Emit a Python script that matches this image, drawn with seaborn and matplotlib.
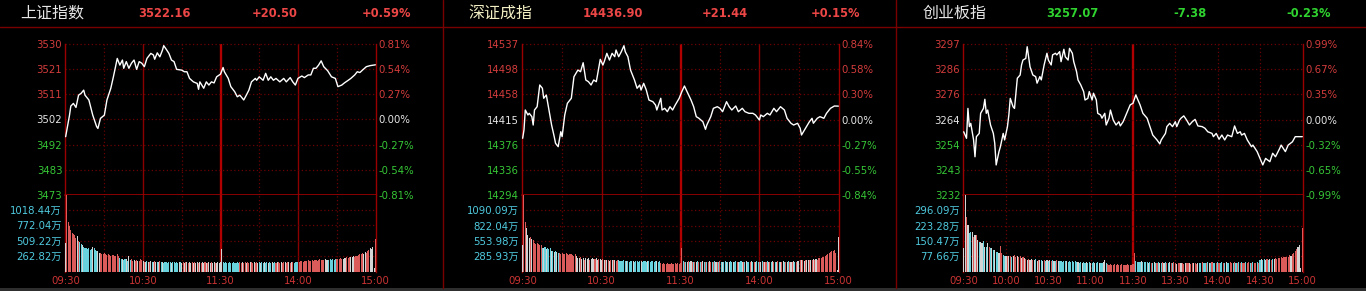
import numpy as np
import pandas as pd
import matplotlib
matplotlib.use("Agg")
import matplotlib.pyplot as plt
from matplotlib.lines import Line2D
from matplotlib.patches import Rectangle
import seaborn as sns

# ---------------- data ----------------
names = ["上证指数", "深证成指", "创业板指"]
last_prices = [3522.16, 14436.90, 3257.07]
changes = [20.50, 21.44, -7.38]
change_text = ["+20.50", "+21.44", "-7.38"]
pct_text = ["+0.59%", "+0.15%", "-0.23%"]
last_text = ["3522.16", "14436.90", "3257.07"]
axis_pct = [0.81, 0.84, 0.99]

price_labels_1 = ["3530", "3521", "3511", "3502", "3492", "3483", "3473"]
price_labels_2 = ["14537", "14498", "14458", "14415", "14376", "14336", "14294"]
price_labels_3 = ["3297", "3286", "3276", "3264", "3254", "3243", "3232"]
pct_labels_1 = ["0.81%", "0.54%", "0.27%", "0.00%", "-0.27%", "-0.54%", "-0.81%"]
pct_labels_2 = ["0.84%", "0.58%", "0.30%", "0.00%", "-0.27%", "-0.55%", "-0.84%"]
pct_labels_3 = ["0.99%", "0.67%", "0.35%", "0.00%", "-0.32%", "-0.65%", "-0.99%"]

vol_ticks_1 = [1018.44, 772.04, 509.22, 262.82]
vol_ticks_2 = [1090.09, 822.04, 553.98, 285.93]
vol_ticks_3 = [296.09, 223.28, 150.47, 77.66]

time_ticks_12 = [0, 60, 120, 180, 240]
time_labels_12 = ["09:30", "10:30", "11:30", "14:00", "15:00"]
time_ticks_3 = [0, 30, 60, 90, 120, 150, 180, 210, 240]
time_labels_3 = ["09:30", "10:00", "10:30", "11:00", "11:30", "13:30", "14:00", "14:30", "15:00"]

# intraday price line (minute index, price)
M1 = [0, 3, 4, 6, 8, 10, 12, 14, 15, 18, 21, 24, 25, 27, 30, 32, 35, 37, 40, 42, 44, 45, 47, 49,
      51, 53, 55, 57, 59, 61, 63, 66, 68, 69, 71, 73, 75, 76, 78, 80, 82, 84, 86, 90, 92, 94, 96,
      99, 102, 103, 104, 107, 109, 111, 113, 115, 117, 120, 122, 123, 126, 128, 131, 133, 135,
      137, 138, 140, 142, 144, 147, 148, 150, 153, 155, 157, 159, 161, 163, 166, 169, 171, 174,
      176, 178, 180, 183, 185, 188, 190, 192, 194, 196, 198, 200, 203, 206, 209, 211, 214, 216,
      219, 221, 224, 226, 228, 230, 233, 236, 240]
P1 = [3495.2, 3503.3, 3506.7, 3507.7, 3506.2, 3510.8, 3511.5, 3512.7, 3510.8, 3509.0, 3503.3,
      3499.0, 3498.3, 3502.1, 3503.3, 3509.0, 3513.4, 3517.7, 3524.6, 3522.1, 3524.0, 3520.9,
      3523.4, 3520.9, 3522.8, 3524.0, 3520.5, 3523.4, 3522.8, 3521.5, 3524.6, 3526.5, 3525.9,
      3524.3, 3526.7, 3525.2, 3527.7, 3529.4, 3528.0, 3526.5, 3524.0, 3523.4, 3520.5, 3520.2,
      3519.6, 3519.6, 3517.1, 3515.8, 3515.2, 3513.0, 3515.8, 3513.4, 3515.8, 3514.6, 3515.8,
      3515.4, 3517.7, 3518.7, 3521.2, 3519.6, 3517.1, 3514.0, 3512.1, 3510.2, 3510.8, 3509.6,
      3509.0, 3510.8, 3512.7, 3515.8, 3517.1, 3516.4, 3517.7, 3516.4, 3519.0, 3516.4, 3517.7,
      3516.4, 3517.1, 3515.8, 3517.1, 3515.8, 3517.4, 3515.8, 3514.6, 3517.1, 3518.0, 3517.4,
      3518.4, 3518.4, 3520.9, 3520.9, 3522.1, 3523.7, 3521.5, 3520.0, 3517.7, 3517.1, 3514.0,
      3514.6, 3515.4, 3516.4, 3517.1, 3518.4, 3519.6, 3519.3, 3520.2, 3521.5, 3521.9, 3522.2]

M2 = [0, 1, 2, 4, 5, 7, 8, 9, 11, 13, 15, 16, 18, 20, 22, 24, 25, 27, 29, 30, 32, 34, 37, 39, 42,
      44, 46, 48, 50, 52, 54, 56, 59, 61, 62, 64, 66, 68, 70, 71, 73, 75, 77, 78, 80, 82, 83, 85,
      87, 89, 90, 92, 94, 96, 99, 101, 102, 105, 106, 108, 110, 112, 114, 116, 119, 121, 123, 125,
      128, 130, 132, 134, 137, 139, 140, 143, 145, 148, 150, 152, 155, 157, 159, 162, 164, 167,
      169, 172, 175, 177, 180, 181, 183, 186, 188, 191, 193, 196, 199, 201, 204, 206, 209, 211,
      212, 215, 218, 220, 221, 224, 226, 229, 231, 234, 237, 240]
P2 = [14385.3, 14398.6, 14430.7, 14422.7, 14425.4, 14420.0, 14406.6, 14430.7, 14436.0, 14470.8,
      14465.5, 14449.5, 14454.7, 14430.7, 14406.6, 14387.9, 14377.3, 14371.9, 14395.9, 14387.9,
      14422.7, 14441.4, 14449.5, 14484.1, 14494.8, 14492.1, 14506.5, 14478.8, 14476.1, 14470.8,
      14478.8, 14476.1, 14512.0, 14502.8, 14508.1, 14521.6, 14510.8, 14521.6, 14516.2, 14526.9,
      14516.2, 14524.2, 14533.8, 14524.2, 14516.2, 14494.8, 14489.5, 14478.8, 14465.5, 14470.8,
      14462.7, 14473.5, 14462.7, 14446.7, 14444.0, 14438.7, 14430.7, 14449.5, 14430.7, 14433.4,
      14428.0, 14436.0, 14430.7, 14438.7, 14449.5, 14460.1, 14469.2, 14460.1, 14446.7, 14436.0,
      14420.0, 14417.4, 14411.9, 14399.7, 14406.6, 14420.0, 14433.4, 14436.0, 14433.4, 14428.0,
      14444.0, 14436.0, 14430.7, 14437.1, 14428.0, 14433.4, 14428.0, 14425.4, 14425.4, 14422.7,
      14414.6, 14422.7, 14420.0, 14425.4, 14422.7, 14433.4, 14428.0, 14436.0, 14430.7, 14417.4,
      14409.4, 14406.6, 14409.4, 14401.3, 14390.6, 14401.3, 14411.9, 14417.4, 14409.4, 14417.4,
      14420.0, 14417.4, 14425.4, 14433.4, 14437.1, 14436.9]

M3 = [0, 2, 3, 4, 5, 7, 8, 9, 11, 12, 14, 15, 16, 17, 19, 21, 22, 23, 25, 26, 28, 29, 31, 32, 33,
      35, 36, 38, 40, 41, 42, 44, 45, 47, 49, 51, 52, 54, 55, 57, 59, 60, 62, 63, 65, 66, 68, 69,
      71, 72, 74, 75, 77, 78, 80, 81, 83, 85, 86, 88, 89, 91, 92, 94, 95, 97, 98, 100, 101, 103,
      104, 106, 108, 110, 111, 113, 115, 118, 120, 122, 123, 125, 127, 130, 132, 134, 137, 139,
      140, 143, 144, 146, 148, 150, 151, 153, 154, 156, 158, 160, 162, 164, 166, 169, 171, 173,
      176, 177, 179, 181, 183, 185, 187, 190, 192, 194, 196, 197, 199, 201, 204, 205, 208, 212,
      214, 217, 219, 221, 224, 225, 228, 230, 233, 235, 240]
P3 = [3259.2, 3256.4, 3269.2, 3261.4, 3262.8, 3255.7, 3248.5, 3257.1, 3258.5, 3267.1, 3269.2,
      3273.1, 3267.1, 3268.5, 3262.1, 3258.5, 3254.3, 3245.0, 3250.7, 3252.8, 3258.5, 3255.7,
      3261.4, 3266.4, 3273.5, 3269.9, 3269.2, 3282.1, 3283.5, 3287.8, 3289.9, 3290.6, 3295.6,
      3287.0, 3283.5, 3282.8, 3280.0, 3282.8, 3281.4, 3287.8, 3292.8, 3289.9, 3287.8, 3292.1,
      3292.8, 3292.1, 3293.5, 3289.2, 3294.5, 3291.3, 3289.9, 3294.9, 3292.8, 3289.2, 3284.9,
      3281.4, 3279.2, 3276.4, 3272.8, 3273.5, 3276.4, 3272.8, 3275.7, 3272.8, 3267.1, 3266.4,
      3265.0, 3267.1, 3262.1, 3265.0, 3268.5, 3264.2, 3262.1, 3263.5, 3261.7, 3263.5, 3266.4,
      3270.7, 3271.4, 3275.0, 3273.5, 3270.7, 3267.1, 3265.0, 3261.4, 3257.8, 3255.7, 3254.0,
      3255.7, 3258.5, 3261.4, 3262.8, 3261.4, 3263.5, 3261.4, 3264.2, 3265.0, 3266.0, 3264.2,
      3262.1, 3263.5, 3264.5, 3261.7, 3261.4, 3260.7, 3259.2, 3258.5, 3257.1, 3258.5, 3256.0,
      3257.8, 3255.7, 3257.8, 3257.1, 3261.7, 3258.5, 3259.2, 3257.8, 3258.5, 3255.7, 3252.8,
      3253.5, 3250.7, 3245.0, 3247.8, 3246.4, 3250.0, 3248.5, 3252.1, 3253.5, 3250.7, 3253.5,
      3254.9, 3257.1, 3257.1]

# per-minute volume (万) and bar colour code (r = up, c = down, w = flat)
V1 = [474, 1273, 830, 760, 700, 640, 620, 610, 560, 600,
      520, 500, 470, 440, 420, 400, 390, 380, 400, 370,
      380, 410, 390, 360, 350, 340, 320, 310, 300, 300,
      310, 290, 280, 290, 280, 270, 280, 280, 270, 260,
      300, 260, 230, 220, 210, 200, 210, 220, 190, 260,
      200, 210, 190, 200, 180, 200, 190, 180, 210, 200,
      180, 170, 160, 180, 170, 165, 175, 160, 170, 180,
      160, 170, 165, 175, 160, 170, 155, 160, 170, 150,
      160, 165, 150, 160, 170, 155, 160, 150, 165, 160,
      155, 165, 150, 160, 170, 155, 160, 150, 165, 155,
      160, 150, 170, 155, 160, 150, 165, 155, 160, 150,
      155, 160, 150, 165, 155, 160, 150, 155, 165, 150,
      160, 380, 160, 150, 165, 155, 150, 160, 155, 150,
      160, 155, 150, 165, 150, 160, 155, 165, 150, 160,
      155, 165, 150, 160, 170, 155, 160, 150, 165, 155,
      160, 150, 165, 155, 170, 150, 160, 155, 165, 150,
      160, 155, 165, 150, 170, 160, 155, 165, 150, 160,
      170, 155, 160, 165, 150, 160, 170, 155, 160, 165,
      160, 170, 175, 180, 170, 185, 190, 180, 195, 185,
      190, 200, 185, 195, 205, 190, 200, 210, 195, 205,
      200, 210, 195, 205, 200, 210, 205, 215, 200, 210,
      215, 220, 210, 225, 215, 220, 230, 225, 240, 235,
      245, 240, 250, 260, 255, 270, 265, 280, 290, 300,
      310, 300, 330, 320, 350, 360, 400, 380, 420, 60, 545]
C1 = list("wrrrrrrrrw" "rccwcccccc" "cwcccwwrrr" "rrrrrrrrrr" "rrccwccwcw"
          "crrwrrwrrr" "wrwcwrwcwr" "wcwrcwcccc" "ccwcccccwc" "wrwrwrwwrw"
          "rwwrwrwwrw" "rwwrwwrwww" "wwcccccccc" "cccccrrwrr" "wrrwrrwrrw"
          "cwccwccwcc" "wccrwrrwrr" "wrrwrwrccc" "crrrrrrrrr" "rrrrrrrrrr"
          "rwwwcccccc" "rrrrrwwwrr" "rwwwrrrrrr" "rwwrrrwwwwr")

V2 = [480, 1362, 885, 780, 655, 600, 620, 590, 560, 520,
      500, 510, 490, 480, 470, 430, 420, 440, 410, 420,
      400, 430, 380, 370, 360, 370, 350, 340, 330, 320,
      340, 320, 310, 330, 320, 300, 310, 320, 300, 290,
      310, 280, 250, 240, 260, 230, 240, 220, 250, 230,
      240, 220, 230, 250, 225, 230, 240, 220, 235, 225,
      215, 230, 210, 220, 205, 215, 200, 210, 220, 205,
      210, 200, 215, 205, 195, 200, 190, 205, 195, 190,
      200, 185, 195, 190, 200, 185, 195, 190, 185, 195,
      190, 185, 200, 190, 185, 195, 190, 185, 200, 190,
      185, 195, 190, 185, 200, 160, 150, 155, 145, 150,
      160, 150, 145, 155, 150, 145, 160, 150, 155, 150,
      165, 420, 190, 180, 185, 175, 190, 180, 195, 185,
      175, 185, 180, 190, 175, 185, 180, 195, 175, 185,
      180, 175, 190, 180, 185, 175, 190, 180, 185, 175,
      190, 180, 185, 175, 190, 180, 185, 175, 190, 180,
      185, 175, 190, 180, 185, 175, 190, 180, 185, 175,
      190, 180, 185, 175, 190, 180, 185, 175, 190, 180,
      185, 175, 190, 180, 185, 175, 190, 180, 185, 175,
      190, 180, 185, 175, 190, 180, 185, 175, 190, 180,
      185, 175, 190, 180, 185, 175, 190, 180, 185, 190,
      200, 210, 205, 215, 200, 220, 210, 205, 215, 220,
      210, 225, 215, 230, 220, 240, 250, 245, 260, 270,
      280, 300, 310, 330, 350, 370, 380, 390, 330, 30, 625]
C2 = list("wrrwwwrwrr" "rrrrrcwcwc" "ccwcwcwcrr" "rrrrrrrrrr" "rwwwrwwrww"
          "wrwwwrwwrw" "wrwrwrwrwr" "wrrccccccw" "ccccwccccc" "wccccwcccc"
          "ccwccrrrrr" "rrrrrrrrrr" "rrcrcwrcwr" "crwcrcrwcr" "crwrcrcwrc"
          "rcwccwcwcc" "wccrwccwrc" "wccrwcrwcc" "rwcrwrcwrc" "wrcwrcwrwc"
          "rwcrwrwcrw" "wrwrwrwwrw" "rwrwrrrrrr" "rrrrrrrrrww")

V3 = [114, 370, 265, 226, 186, 193, 193, 169, 178, 180,
      154, 145, 145, 138, 150, 121, 118, 140, 121, 113,
      113, 106, 106, 97, 97, 93, 125, 90, 82, 78,
      78, 75, 75, 78, 70, 75, 80, 72, 78, 70,
      75, 68, 72, 65, 62, 60, 64, 58, 62, 60,
      58, 62, 55, 58, 56, 60, 54, 57, 55, 58,
      54, 56, 53, 57, 55, 52, 56, 54, 52, 55,
      50, 53, 51, 54, 50, 52, 49, 53, 50, 52,
      46, 48, 45, 47, 44, 46, 45, 48, 44, 46,
      45, 43, 46, 44, 45, 47, 43, 45, 44, 46,
      60, 45, 37, 35, 38, 36, 34, 37, 35, 38,
      36, 34, 37, 35, 36, 34, 37, 35, 33, 36,
      38, 90, 52, 48, 50, 47, 51, 49, 48, 50,
      46, 44, 47, 45, 43, 46, 44, 45, 47, 43,
      45, 46, 44, 47, 45, 43, 46, 44, 45, 47,
      42, 40, 43, 41, 44, 42, 40, 43, 41, 42,
      44, 40, 42, 43, 41, 40, 42, 45, 43, 46,
      44, 45, 43, 46, 44, 45, 47, 43, 45, 44,
      46, 45, 43, 47, 44, 45, 46, 44, 45, 47,
      45, 44, 46, 43, 45, 47, 44, 46, 45, 43,
      46, 44, 47, 45, 43, 46, 45, 44, 47, 45,
      58, 62, 60, 64, 57, 62, 60, 63, 58, 61,
      62, 66, 64, 68, 65, 70, 67, 72, 70, 74,
      70, 80, 75, 85, 92, 100, 110, 120, 130, 20, 212]
C3 = list("wwrwccwrwr" "wcwwcwcwrc" "wcwccwrrcc" "wrwrcwrrwr" "rwrwrwrwwr"
          "wcwrwcwrcw" "cwrcwcrwcc" "cccwcccccc" "cwccwccwcc" "wccwccwccw"
          "wcrrrrrrrr" "rrrrrrrrrr" "rrccccwccc" "cwcrcwcrcw" "crwcrcwrcr"
          "rwrrwrrwrr" "wrrwrrwccr" "ccrcwcrccr" "crccrcwccr" "rcrcrcrcrr"
          "crrcrcrrcr" "cwccwrcwrc" "wrrrrrrrrr" "rrwrrrrwwwr")

# ---------------- style ----------------
sns.set_theme(style="dark", rc={"axes.facecolor": "black", "figure.facecolor": "black"})
plt.rcParams["font.family"] = ["DejaVu Sans", "Noto Sans CJK SC"]
plt.rcParams["axes.unicode_minus"] = False

W, H = 1366, 291
RED_T = "#d43c3c"
RED_H = "#ec4646"
GRN_T = "#36c636"
GRN_H = "#2fd22f"
WHITE_T = "#e6e6e6"
CYAN_T = "#4fcadf"
DOT = "#6a0000"
SOLID = "#8a0000"
BRIGHT = "#b00000"
BORDER = "#9a0000"
pal = {"r": "#f04646", "c": "#54e4f0", "w": "#d4d4d4"}
FS = 7.3


def rect(x0, y0, x1, y1):
    return [x0 / W, 1 - y1 / H, (x1 - x0) / W, (y1 - y0) / H]


fig = plt.figure(figsize=(W / 100, H / 100), dpi=100)
fig.patch.set_facecolor("black")

panels = [
    dict(x=(65, 376), M=M1, P=P1, V=V1, C=C1, pl=price_labels_1, ql=pct_labels_1, vt=vol_ticks_1,
         tt=time_ticks_12, tl=time_labels_12, dotted_v=[30, 90, 150, 210], solid_v=[60, 180],
         hx=(20, 164.5, 275, 386.5), tcol=WHITE_T),
    dict(x=(522, 839), M=M2, P=P2, V=V2, C=C2, pl=price_labels_2, ql=pct_labels_2, vt=vol_ticks_2,
         tt=time_ticks_12, tl=time_labels_12, dotted_v=[30, 90, 150, 210], solid_v=[60, 180],
         hx=(468, 613, 724.5, 836), tcol="#f2eec4"),
    dict(x=(963, 1303), M=M3, P=P3, V=V3, C=C3, pl=price_labels_3, ql=pct_labels_3, vt=vol_ticks_3,
         tt=time_ticks_3, tl=time_labels_3, dotted_v=[30, 60, 90, 150, 180, 210], solid_v=[],
         hx=(923, 1072.5, 1190, 1308.5), tcol=WHITE_T),
]

minutes = np.arange(241)

for i, cfg in enumerate(panels):
    x0, x1 = cfg["x"]
    pre = last_prices[i] - changes[i]
    pct = axis_pct[i]
    lo, hi = pre * (1 - pct / 100), pre * (1 + pct / 100)
    ytick = [pre * (1 + pct / 100 * k / 3) for k in (3, 2, 1, 0, -1, -2, -3)]

    axp = fig.add_axes(rect(x0, 44, x1, 195))
    axv = fig.add_axes(rect(x0, 195, x1, 272))
    for ax in (axp, axv):
        ax.set_facecolor("black")
        ax.set_xlim(-0.5, 240.5)
        for s in ("top", "bottom"):
            ax.spines[s].set_visible(False)
        for s in ("left", "right"):
            ax.spines[s].set_visible(True)
            ax.spines[s].set_color(BORDER)
            ax.spines[s].set_linewidth(1.0)
        ax.grid(False)
        for m in cfg["dotted_v"]:
            ax.axvline(m, color=DOT, lw=0.9, ls=(0, (1, 2)), zorder=0)
        for m in cfg["solid_v"]:
            ax.axvline(m, color=SOLID, lw=1.0, zorder=0)
        ax.axvline(120, color=BRIGHT, lw=1.7, zorder=0)

    # price line
    df = pd.DataFrame({"minute": cfg["M"], "price": cfg["P"]})
    sns.lineplot(data=df, x="minute", y="price", ax=axp, color="white", linewidth=1.0,
                 estimator=None, sort=False, zorder=3)
    axp.set_ylim(lo, hi)
    axp.set_xlim(-0.5, 240.5)
    for k, y in enumerate(ytick):
        if k == 6:
            axp.axhline(y, color="#a00000", lw=1.2, zorder=1, clip_on=False)
        else:
            axp.axhline(y, color=DOT, lw=0.9, ls=(0, (1, 2)), zorder=0, clip_on=False)
    axp.set_yticks(ytick)
    axp.set_yticklabels(cfg["pl"])
    axp.set_xticks([])
    axp.set_xlabel("")
    axp.set_ylabel("")
    axp.tick_params(axis="y", length=0, pad=2.0, labelsize=FS)
    cols = [RED_T, RED_T, RED_T, WHITE_T, GRN_T, GRN_T, GRN_T]
    for lab, c in zip(axp.get_yticklabels(), cols):
        lab.set_color(c)

    axr = axp.twinx()
    axr.set_ylim(lo, hi)
    axr.set_yticks(ytick)
    axr.set_yticklabels(cfg["ql"])
    axr.tick_params(axis="y", length=0, pad=2.0, labelsize=FS)
    for s in axr.spines.values():
        s.set_visible(False)
    axr.grid(False)
    for lab, c in zip(axr.get_yticklabels(), cols):
        lab.set_color(c)

    # volume bars
    dv = pd.DataFrame({"minute": minutes, "vol": cfg["V"], "dir": cfg["C"]})
    sns.barplot(data=dv, x="minute", y="vol", hue="dir", palette=pal, native_scale=True,
                dodge=False, legend=False, width=0.8, errorbar=None, ax=axv,
                linewidth=0, antialiased=False, zorder=3)
    vmax = max(cfg["V"])
    axv.set_ylim(0, vmax)
    axv.set_xlim(-0.5, 240.5)
    for v in cfg["vt"]:
        axv.axhline(v, color=DOT, lw=0.9, ls=(0, (1, 2)), zorder=0)
    axv.set_yticks(cfg["vt"])
    axv.set_yticklabels([f"{v:.2f}万" for v in cfg["vt"]])
    axv.tick_params(axis="y", length=0, pad=2.2, labelsize=FS, labelcolor=CYAN_T)
    axv.set_xticks(cfg["tt"])
    axv.set_xticklabels(cfg["tl"])
    axv.tick_params(axis="x", length=0, pad=3.0, labelsize=FS, labelcolor="#cc3434")
    axv.set_xlabel("")
    axv.set_ylabel("")

    # header
    hx = cfg["hx"]
    up = changes[i] >= 0
    hc = RED_H if up else GRN_H
    fig.text(hx[0] / W, 1 - 13.5 / H, names[i], color=cfg["tcol"], fontsize=11.5,
             family=["Noto Sans CJK SC", "DejaVu Sans"], ha="left", va="center")
    fig.text(hx[1] / W, 1 - 13.5 / H, last_text[i], color=hc, fontsize=8.3,
             fontweight="bold", ha="center", va="center")
    fig.text(hx[2] / W, 1 - 13.5 / H, change_text[i], color=hc, fontsize=8.3,
             fontweight="bold", ha="center", va="center")
    fig.text(hx[3] / W, 1 - 13.5 / H, pct_text[i], color=hc, fontsize=8.3,
             fontweight="bold", ha="center", va="center")

# frame lines
fig.add_artist(Line2D([0, 1], [1 - 27 / H, 1 - 27 / H], transform=fig.transFigure,
                      color="#7a0000", lw=1.0))
for xd in (443, 896):
    fig.add_artist(Line2D([xd / W, xd / W], [1 - 288 / H, 1], transform=fig.transFigure,
                          color="#7a0000", lw=1.0))
fig.add_artist(Rectangle((0, 0), 1, 3 / H, transform=fig.transFigure,
                         facecolor="#2e2e2e", edgecolor="none"))

fig.savefig("out.png", dpi=100, facecolor="black")
